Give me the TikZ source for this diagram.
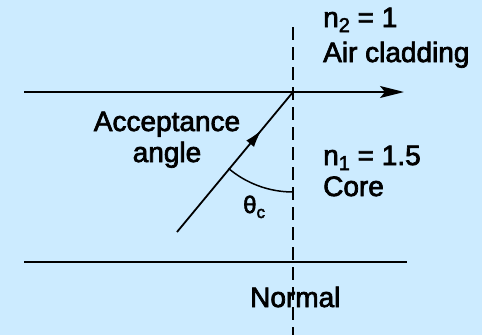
\documentclass[tikz,border=0pt]{standalone}
\usepackage{fontspec}
\setmainfont[FakeBold=2.5]{Liberation Sans}
\usetikzlibrary{arrows.meta,decorations.markings}
\definecolor{bgblue}{RGB}{204,235,255}
\tikzset{
  lbl/.style={inner sep=0pt, font=\fontsize{28}{31}\selectfont},
  wall/.style={line width=2.8pt},
  ray/.style={line width=1.8pt},
  normalline/.style={line width=1.6pt, dash pattern=on 13pt off 7pt},
}
\newcommand{\subtxt}[1]{\raisebox{-5pt}{\fontsize{20}{20}\selectfont #1}}
\begin{document}
\begin{tikzpicture}[x=1pt,y=-1pt]
\fill[bgblue] (0,0) rectangle (482,335);
\useasboundingbox (0,0) rectangle (482,335);
% coordinates
\coordinate (P) at (293,92);
\coordinate (L1) at (24,92);
\coordinate (R1) at (404,92);
\coordinate (B0) at (24,262);
\coordinate (B1) at (407,262);
\coordinate (N0) at (293,27);
\coordinate (N1) at (293,335);
\coordinate (S) at (177,232);
% boundaries
\draw[wall] (L1) -- (P);
\draw[wall] (B0) -- (B1);
\draw[line width=1.6pt, -{Stealth[length=24pt,width=12pt,inset=5pt]}] (P) -- (R1);
% normal
\draw[normalline] (N0) -- (N1);
% incident ray
\draw[ray, decoration={markings, mark=at position 0.73 with {\arrow{Latex[length=18pt,width=10pt]}}}, postaction={decorate}] (S) -- (P);
% angle arc
\draw[line width=1.5pt] (P) ++(130.1:100) arc[start angle=130.1, end angle=90, radius=100];
% labels
\node[lbl, anchor=base west] (n2) at (323,27) {n\subtxt{2} = 1};
\node[lbl, anchor=base west] (air) at (323,62) {Air cladding};
\node[lbl, anchor=base] (acc) at (167,131) {Acceptance};
\node[lbl, anchor=base] (ang) at (167,162) {angle};
\node[lbl, anchor=base west] (n1) at (323,165) {n\subtxt{1} = 1.5};
\node[lbl, anchor=base west] (core) at (323,196) {Core};
\node[lbl, anchor=base west] (norm) at (250,307) {Normal};
\node[inner sep=0pt, anchor=base west, font=\fontsize{24}{24}\selectfont] (th) at (243,213) {θ\raisebox{-5pt}{\fontsize{17}{17}\selectfont c}};
\end{tikzpicture}
\end{document}
